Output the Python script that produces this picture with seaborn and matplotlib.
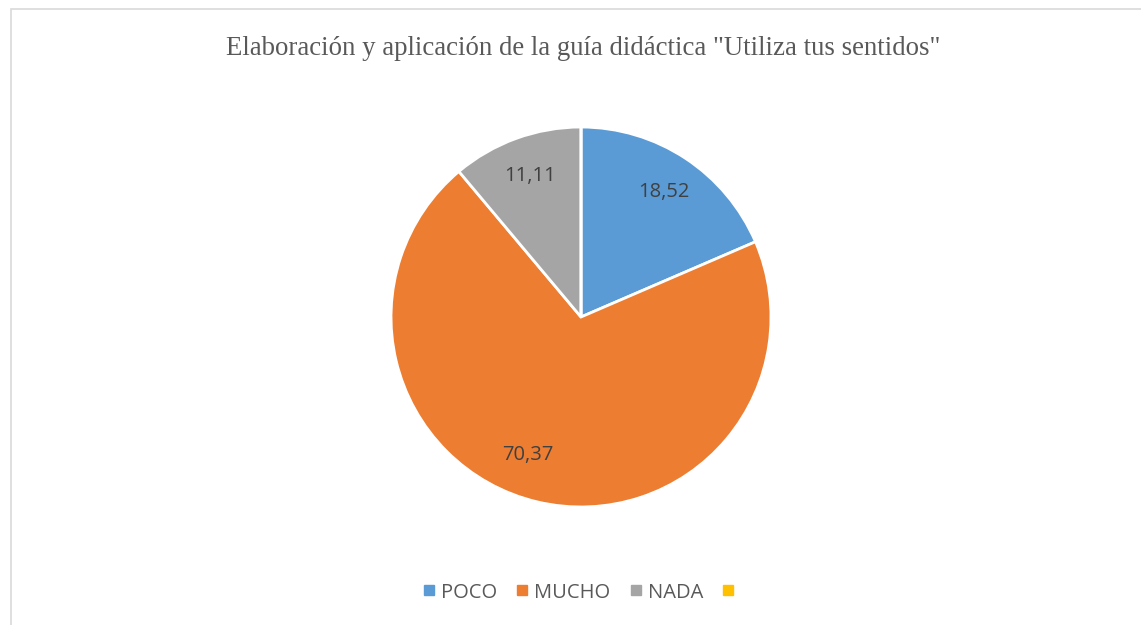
import matplotlib.pyplot as plt
import matplotlib.patches as mpatches
from matplotlib.lines import Line2D
import seaborn as sns

# data
categories = ["POCO", "MUCHO", "NADA", ""]
values = [18.52, 70.37, 11.11, 0.0]
value_labels = ["18,52", "70,37", "11,11", ""]
title = 'Elaboración y aplicación de la guía didáctica "Utiliza tus sentidos"'

sns.set_theme(style="white")
plt.rcParams['font.family'] = ['Open Sans', 'DejaVu Sans']

colors = sns.color_palette(["#5B9BD5", "#ED7D31", "#A5A5A5", "#FFC000"])

fig = plt.figure(figsize=(11.41, 6.25), dpi=100)
fig.patch.set_facecolor("white")

# chart area border (clipped by the image on right/bottom)
fig.patches.append(mpatches.Rectangle((10.5 / 1141, -0.1), 1.2, (625 - 8.5) / 625 + 0.1,
                                      transform=fig.transFigure, fill=False,
                                      edgecolor="#D9D9D9", lw=1.2, clip_on=False))

ax = fig.add_axes([0.3427, 0.1888, 0.3330, 0.6080])
wedges, texts = ax.pie(values, labels=value_labels, colors=colors, startangle=90,
                       counterclock=False, labeldistance=0.79,
                       wedgeprops=dict(edgecolor="white", linewidth=2),
                       textprops=dict(color="#404040", fontsize=14.5, ha="center", va="center"))
# Excel nudges the big slice's label a bit to the left
x, y = texts[1].get_position()
texts[1].set_position((x - 0.1, y + 0.04))
ax.set_xlim(-1, 1)
ax.set_ylim(-1, 1)
ax.set_aspect("equal")
ax.axis("off")

fig.text(0.511, 0.922, title, ha="center", va="center", fontsize=19.3,
         family="Liberation Serif", color="#595959")

handles = [Line2D([0], [0], marker="s", linestyle="none", markersize=6.5,
                  markerfacecolor=c, markeredgecolor=c) for c in colors]
fig.legend(handles, categories, loc="center", bbox_to_anchor=(0.508, 0.052), ncol=4,
           frameon=False, fontsize=14.5, labelcolor="#595959", handletextpad=0.1,
           columnspacing=0.75, handlelength=1.0)

fig.savefig("out.png", dpi=100, facecolor="white")
